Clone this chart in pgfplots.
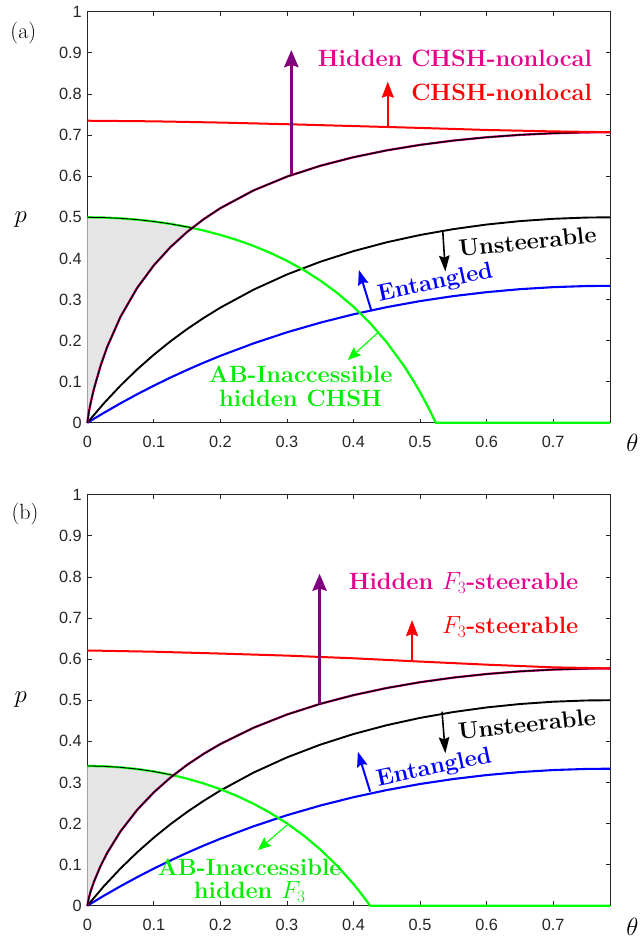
\documentclass[border=0pt]{standalone}
\usepackage{fontspec}
\usepackage{pgfplots}
\usepackage{pgfplotstable}
\pgfplotsset{compat=1.18}
\usetikzlibrary{arrows.meta}
\newfontfamily\arial{Liberation Sans}
\definecolor{axgray}{rgb}{0.15,0.15,0.15}
\definecolor{hidmag}{RGB}{230,0,140}
\definecolor{mpurple}{rgb}{0.5,0,0.5}
\definecolor{mgreen}{rgb}{0,1,0}
\definecolor{tgreen}{rgb}{0,0.93,0}
\definecolor{fillgray}{rgb}{0.9,0.9,0.9}

\pgfplotstableread{
t p
0 0
0.025 0.02438
0.05 0.04754
0.075 0.06953
0.1 0.09036
0.125 0.11008
0.15 0.12874
0.175 0.14636
0.2 0.16298
0.25 0.19336
0.3 0.22016
0.35 0.24363
0.4 0.26399
0.45 0.28143
0.5 0.29614
0.55 0.30825
0.6 0.31788
0.65 0.32514
0.7 0.33008
0.75 0.33277
0.7854 0.33333
}\blue
\pgfplotstableread{
t p
0 0
0.025 0.0476
0.05 0.09077
0.075 0.13001
0.1 0.16574
0.125 0.19833
0.15 0.22811
0.175 0.25534
0.2 0.28027
0.25 0.32406
0.3 0.36088
0.35 0.39181
0.4 0.41771
0.45 0.43925
0.5 0.45696
0.55 0.47124
0.6 0.48241
0.65 0.49072
0.7 0.49634
0.75 0.49937
0.7854 0.5
}\blackc
\pgfplotstableread{
t p
0 0
0.0025 0.02741
0.005 0.04801
0.01 0.08283
0.02 0.13911
0.03 0.18505
0.05 0.25838
0.075 0.32843
0.1 0.38318
0.125 0.42756
0.15 0.46442
0.175 0.49558
0.2 0.52229
0.25 0.56557
0.3 0.59900
0.35 0.62528
0.4 0.64619
0.45 0.66290
0.5 0.67621
0.55 0.68668
0.6 0.69471
0.65 0.70061
0.7 0.70455
0.75 0.70661
0.7854 0.70711
}\purpleA
\pgfplotstableread{
t p
0 0
0.0025 0.02036
0.005 0.03471
0.01 0.05851
0.02 0.09700
0.03 0.12884
0.05 0.18116
0.075 0.23332
0.1 0.27593
0.125 0.31186
0.15 0.34275
0.175 0.36970
0.2 0.39339
0.25 0.43318
0.3 0.46515
0.35 0.49113
0.4 0.51237
0.45 0.52969
0.5 0.54377
0.55 0.55500
0.6 0.56374
0.65 0.57017
0.7 0.57452
0.75 0.57688
0.7854 0.57735
}\purpleB
\pgfplotstableread{
t p
0 0.5
0.025 0.49937
0.05 0.49749
0.075 0.49432
0.1 0.48983
0.125 0.48396
0.15 0.47662
0.175 0.46773
0.2 0.45715
0.225 0.44472
0.25 0.43026
0.275 0.41350
0.3 0.39419
0.325 0.37192
0.35 0.34627
0.375 0.31665
0.4 0.28234
0.425 0.24240
0.45 0.19564
0.475 0.14042
0.49 0.10236
0.5 0.07459
0.51 0.04465
0.515 0.02879
0.5236 0
0.7854 0
}\greenA
\pgfplotstableread{
t p
0 0.34
0.025 0.33917
0.05 0.33668
0.075 0.33250
0.1 0.32658
0.125 0.31882
0.15 0.30915
0.175 0.29740
0.2 0.28343
0.225 0.26703
0.25 0.24793
0.275 0.22582
0.3 0.20033
0.325 0.17094
0.35 0.13707
0.375 0.09798
0.4 0.05269
0.41 0.03257
0.42506 0
0.7854 0
}\greenB
\pgfplotstableread{
t p
0 0.735
0.1 0.7335
0.2 0.7305
0.3 0.7265
0.4 0.722
0.5 0.7175
0.6 0.7125
0.7 0.709
0.7854 0.7071
}\redA
\pgfplotstableread{
t p
0 0.621
0.1 0.618
0.2 0.6135
0.3 0.6085
0.4 0.602
0.5 0.594
0.6 0.5865
0.7 0.580
0.7854 0.5774
}\redB

\pgfplotsset{panel/.style={
  scale only axis, width=522.7pt, height=411pt, anchor=south west,
  xmin=0, xmax=0.785398, ymin=0, ymax=1,
  xtick={0,0.1,0.2,0.3,0.4,0.5,0.6,0.7},
  ytick={0,0.1,0.2,0.3,0.4,0.5,0.6,0.7,0.8,0.9,1},
  clip=false,
  axis line style={axgray, line width=0.8pt},
  tick style={axgray, line width=0.8pt},
  major tick length=4.3pt, tick align=inside,
  xtick pos=both, ytick pos=both,
  /pgf/number format/assume math mode=true,
  /pgf/number format/fixed,
  tick label style={font={\arial\fontsize{16.3}{18}\selectfont}, text=axgray},
  xticklabel style={yshift=-10pt},
  yticklabel style={xshift=-2pt},
}}
\tikzset{ann/.style={font={\bfseries\fontsize{23.6}{23.5}\selectfont}, inner sep=0pt}}

\begin{document}
\begin{tikzpicture}
% ---------- panel (a)
\begin{axis}[panel, at={(87.3pt,-422.8pt)}]
\addplot[draw=none, fill=fillgray] coordinates {(0,0) (0.0025,0.02741) (0.005,0.04801) (0.01,0.08283) (0.02,0.13911) (0.03,0.18505) (0.05,0.25838) (0.075,0.32843) (0.1,0.38318) (0.125,0.42756) (0.15,0.46442) (0.15762,0.4743) (0.15,0.47662) (0.125,0.48396) (0.1,0.48983) (0.075,0.49432) (0.05,0.49749) (0.025,0.49937) (0,0.5)};
\addplot[blue, line width=2.1pt] table {\blue};
\addplot[black, line width=1.9pt] table {\blackc};
\addplot[mgreen, line width=2.2pt] table {\greenA};
\addplot[black, line width=0.8pt] coordinates {(0,0.5) (0.025,0.49937) (0.05,0.49749) (0.075,0.49432) (0.1,0.48983) (0.125,0.48396) (0.15,0.47662) (0.15762,0.4743)};
\addplot[magenta, line width=2.3pt] table {\purpleA};
\addplot[black, line width=1.4pt] table {\purpleA};
\addplot[red, line width=2pt] table {\redA};
% arrows
\draw[mpurple, line width=3.3pt, -{Stealth[length=17pt,width=14pt,inset=2pt]}] (axis cs:0.3066,0.603) -- (axis cs:0.3066,0.907);
\draw[red, line width=2pt, -{Stealth[length=16pt,width=12pt,inset=2pt]}] (axis cs:0.4515,0.7205) -- (axis cs:0.4515,0.83);
\draw[black, line width=1.6pt, -{Stealth[length=16pt,width=10.5pt,inset=2pt]}] (axis cs:0.534,0.469) -- (axis cs:0.538,0.368);
\draw[blue, line width=2pt, -{Stealth[length=15pt,width=10.5pt,inset=2pt]}] (axis cs:0.4266,0.274) -- (axis cs:0.408,0.372);
\draw[mgreen, line width=1.1pt, -{Stealth[length=13pt,width=11pt,inset=2pt]}] (axis cs:0.4365,0.219) -- (axis cs:0.3915,0.153);
% texts
\node[ann, text=hidmag, anchor=east] at (axis cs:0.7585,0.887) {Hidden CHSH-nonlocal};
\node[ann, text=red, anchor=east] at (axis cs:0.7585,0.803) {CHSH-nonlocal};
\node[ann, text=black, rotate=6] at (axis cs:0.6615,0.441) {Unsteerable};
\node[ann, text=blue, rotate=12] at (axis cs:0.523,0.339) {Entangled};
\node[ann, text=tgreen, align=center] at (axis cs:0.3205,0.0883) {AB-Inaccessible\\hidden CHSH};
\end{axis}
% ---------- panel (b)
\begin{axis}[panel, at={(87.3pt,-905.7pt)}]
\addplot[draw=none, fill=fillgray] coordinates {(0,0) (0.0025,0.02036) (0.005,0.03471) (0.01,0.05851) (0.02,0.09700) (0.03,0.12884) (0.05,0.18116) (0.075,0.23332) (0.1,0.27593) (0.125,0.31186) (0.12929,0.3174) (0.125,0.31882) (0.1,0.32658) (0.075,0.33250) (0.05,0.33668) (0.025,0.33917) (0,0.34)};
\addplot[blue, line width=2.1pt] table {\blue};
\addplot[black, line width=1.9pt] table {\blackc};
\addplot[mgreen, line width=2.2pt] table {\greenB};
\addplot[black, line width=0.8pt] coordinates {(0,0.34) (0.025,0.33917) (0.05,0.33668) (0.075,0.33250) (0.1,0.32658) (0.125,0.31882) (0.12929,0.3174)};
\addplot[magenta, line width=2.3pt] table {\purpleB};
\addplot[black, line width=1.4pt] table {\purpleB};
\addplot[red, line width=2pt] table {\redB};
% arrows
\draw[mpurple, line width=3.3pt, -{Stealth[length=17pt,width=14pt,inset=2pt]}] (axis cs:0.349,0.490) -- (axis cs:0.349,0.808);
\draw[red, line width=2pt, -{Stealth[length=16pt,width=12pt,inset=2pt]}] (axis cs:0.488,0.5946) -- (axis cs:0.488,0.695);
\draw[black, line width=1.6pt, -{Stealth[length=16pt,width=10.5pt,inset=2pt]}] (axis cs:0.533,0.472) -- (axis cs:0.538,0.371);
\draw[blue, line width=2pt, -{Stealth[length=15pt,width=10.5pt,inset=2pt]}] (axis cs:0.425,0.2774) -- (axis cs:0.4065,0.3747);
\draw[mgreen, line width=1.1pt, -{Stealth[length=13pt,width=11pt,inset=2pt]}] (axis cs:0.300,0.196) -- (axis cs:0.2565,0.1355);
% texts
\node[ann, text=hidmag, anchor=east] at (axis cs:0.738,0.786) {Hidden $F_3$-steerable};
\node[ann, text=red, anchor=east] at (axis cs:0.738,0.679) {$F_3$-steerable};
\node[ann, text=black, rotate=6] at (axis cs:0.6606,0.442) {Unsteerable};
\node[ann, text=blue, rotate=12] at (axis cs:0.521,0.334) {Entangled};
\node[ann, text=tgreen, align=center] at (axis cs:0.244,0.0615) {AB-Inaccessible\\hidden $F_3$};
\end{axis}
% outer labels
\node[font=\fontsize{22}{24}\selectfont] at (23.3pt,-33.3pt) {(a)};
\node[font=\fontsize{22}{24}\selectfont] at (25pt,-514pt) {(b)};
\node[font=\fontsize{28}{30}\selectfont] at (20.7pt,-220pt) {$p$};
\node[font=\fontsize{28}{30}\selectfont] at (20.7pt,-700pt) {$p$};
\node[font=\fontsize{28}{30}\selectfont] at (632.5pt,-443pt) {$\theta$};
\node[font=\fontsize{28}{30}\selectfont] at (632.5pt,-926.7pt) {$\theta$};
\pgfresetboundingbox
\useasboundingbox (0,0) rectangle (643pt,-939pt);
\end{tikzpicture}
\end{document}
